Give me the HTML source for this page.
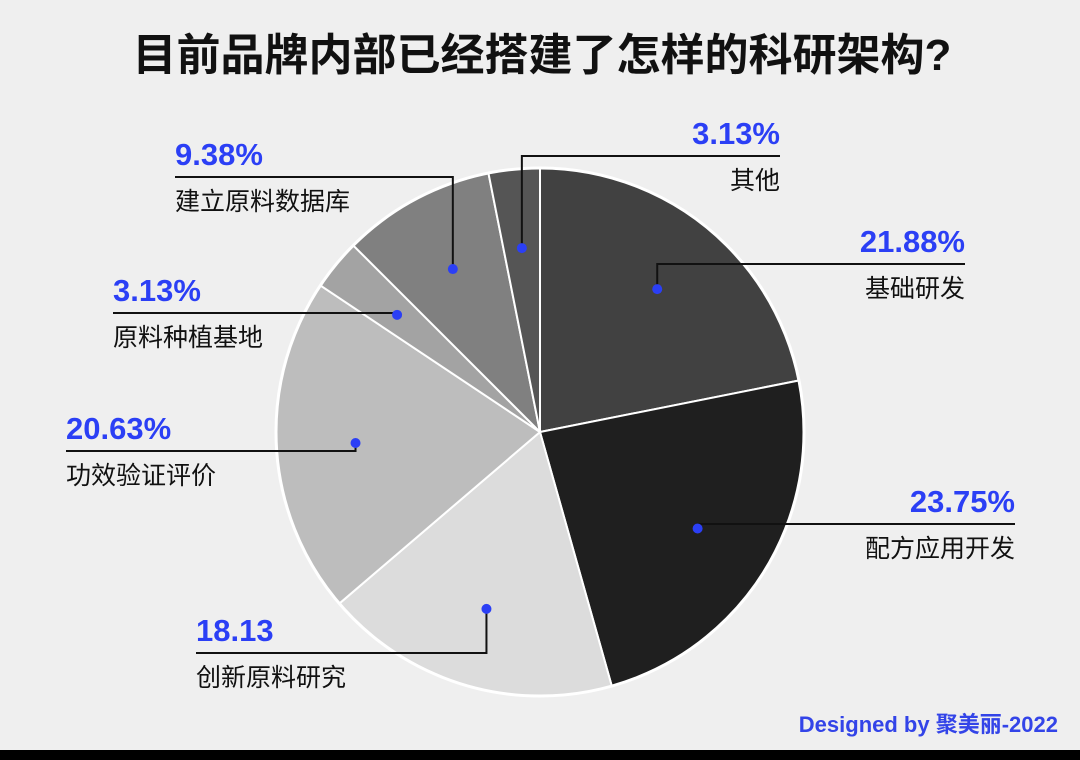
<!DOCTYPE html>
<html><head><meta charset="utf-8">
<style>
html,body{margin:0;padding:0}
body{width:1080px;height:760px;background:#efefef;position:relative;overflow:hidden;font-family:"Liberation Sans","Noto Sans CJK SC",sans-serif}
svg{position:absolute;left:0;top:0}
</style></head>
<body>
<svg id="chart" width="1080" height="760">
<text x="542" y="70" text-anchor="middle" font-size="44" font-weight="bold" fill="#111" font-family="Liberation Sans, Noto Sans CJK SC, sans-serif">目前品牌内部已经搭建了怎样的科研架构?</text>
<g id="slices"></g><g id="labels"></g>
<text x="1058" y="732" text-anchor="end" font-size="22" font-weight="bold" fill="#3344e8" font-family="Liberation Sans, Noto Sans CJK SC, sans-serif">Designed by 聚美丽-2022</text>
<rect x="0" y="750" width="1080" height="10" fill="#000"/>
</svg>
<script>
const categories=["基础研发","配方应用开发","创新原料研究","功效验证评价","原料种植基地","建立原料数据库","其他"];
const values=[21.88,23.75,18.13,20.63,3.13,9.38,3.13];
const valueLabels=["21.88%","23.75%","18.13","20.63%","3.13%","9.38%","3.13%"];
const colors=["#414141","#1f1f1f","#dcdcdc","#bdbdbd","#a3a3a3","#808080","#555555"];
const anchors=[[264,655,965,"r"],[524,703,1015,"r"],[653,196,485,"l"],[451,66,351,"l"],[313,113,394,"l"],[177,175,452,"l"],[156,522,780,"r"]];
const NS="http://www.w3.org/2000/svg",cx=540,cy=432,R=264;
const total=values.reduce((a,b)=>a+b,0);
function pt(a,r){return [cx+r*Math.sin(a),cy-r*Math.cos(a)];}
const gS=document.getElementById('slices'),gL=document.getElementById('labels');
let acc=0;
values.forEach((v,i)=>{
 const a0=acc/total*2*Math.PI;acc+=v;const a1=acc/total*2*Math.PI;
 const p0=pt(a0,R),p1=pt(a1,R);
 const p=document.createElementNS(NS,'path');
 p.setAttribute('d',`M${cx},${cy}L${p0[0]},${p0[1]}A${R},${R} 0 ${a1-a0>Math.PI?1:0} 1 ${p1[0]},${p1[1]}Z`);
 p.setAttribute('fill',colors[i]);p.setAttribute('stroke','#fff');p.setAttribute('stroke-width','2');
 
 
 gS.appendChild(p);
 const am=(a0+a1)/2,d=pt(am,0.7*R);
 const [ly,x1,x2,side]=anchors[i];
 const pl=document.createElementNS(NS,'polyline');
 pl.setAttribute('points',`${d[0]},${d[1]} ${d[0]},${ly} ${side==="r"?x2:x1},${ly}`);
 pl.setAttribute('fill','none');pl.setAttribute('stroke','#111');pl.setAttribute('stroke-width','2');
 
 
 gL.appendChild(pl);
 const c=document.createElementNS(NS,'circle');
 c.setAttribute('cx',d[0]);c.setAttribute('cy',d[1]);c.setAttribute('r',5);c.setAttribute('fill','#2b3ff5');
 
 
 gL.appendChild(c);
 const tx=side==="r"?x2:x1,anc=side==="r"?"end":"start";
 const t1=document.createElementNS(NS,'text');
 t1.setAttribute('x',tx);t1.setAttribute('y',ly-12);t1.setAttribute('text-anchor',anc);
 t1.setAttribute('font-size','31');t1.setAttribute('font-weight','bold');t1.setAttribute('fill','#2b3ff5');
 t1.textContent=valueLabels[i];
 
 
 gL.appendChild(t1);
 const t2=document.createElementNS(NS,'text');
 t2.setAttribute('x',tx);t2.setAttribute('y',ly+33);t2.setAttribute('text-anchor',anc);
 t2.setAttribute('font-size','25');t2.setAttribute('fill','#111');
 t2.textContent=categories[i];
 
 
 gL.appendChild(t2);
});
const outline=document.createElementNS(NS,'circle');
outline.setAttribute('cx',cx);outline.setAttribute('cy',cy);outline.setAttribute('r',R);
outline.setAttribute('fill','none');outline.setAttribute('stroke','#fff');outline.setAttribute('stroke-width','3');


gS.appendChild(outline);
</script>
</body></html>
